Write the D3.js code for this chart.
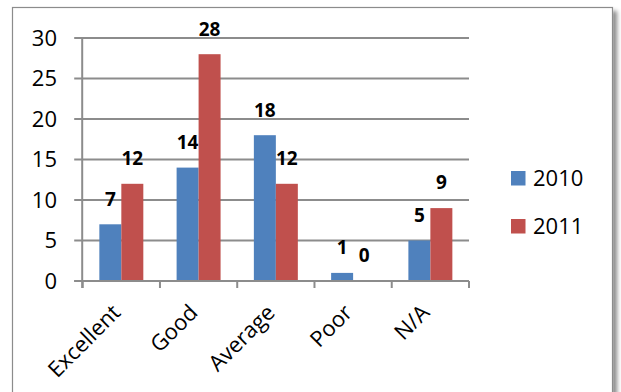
<!DOCTYPE html>
<html>
<head>
<meta charset="utf-8">
<script src="https://cdn.jsdelivr.net/npm/d3@7"></script>
<style>
  html, body { margin: 0; padding: 0; background: #fff; }
  svg { display: block; }
  text { font-family: "Open Sans", sans-serif; fill: #000; }
</style>
</head>
<body>
<svg id="chart" width="621" height="392"></svg>
<script>
// Survey responses by rating, two years side by side
const categories = ["Excellent", "Good", "Average", "Poor", "N/A"];
const seriesNames = ["2010", "2011"];
const values2010 = [7, 14, 18, 1, 5];
const values2011 = [12, 28, 12, 0, 9];
const yTicks = [0, 5, 10, 15, 20, 25, 30];
const colors = ["#4F81BD", "#C0504D"];

const seriesValues = [values2010, values2011];

const svg = d3.select("#chart");

// Chart area frame with a soft drop shadow
const defs = svg.append("defs");
const f = defs.append("filter").attr("id", "shadow")
  .attr("x", "-5%").attr("y", "-5%").attr("width", "115%").attr("height", "115%");
f.append("feDropShadow").attr("dx", 4).attr("dy", 4)
  .attr("stdDeviation", 2).attr("flood-color", "#000").attr("flood-opacity", 0.45);

svg.append("rect")
  .attr("x", 12.5).attr("y", 7.5).attr("width", 600).attr("height", 420)
  .attr("fill", "#fff").attr("stroke", "#8c8c8c").attr("stroke-width", 1.2)
  .attr("filter", "url(#shadow)");

const plot = { left: 82.7, right: 469, top: 38, bottom: 281 };

const y = d3.scaleLinear().domain([0, 30]).range([plot.bottom, plot.top]);
const x0 = d3.scaleBand().domain(categories).range([plot.left, plot.right]).padding(0);
const x1 = d3.scaleBand().domain(seriesNames).range([0, x0.bandwidth()])
  .paddingInner(0).paddingOuter(0.757);

const gridColor = "#8c8c8c";

// Horizontal gridlines (they double as the y tick marks on the left)
svg.append("g").selectAll("line").data(yTicks).join("line")
  .attr("x1", plot.left - 8.5).attr("x2", plot.right)
  .attr("y1", d => y(d)).attr("y2", d => y(d))
  .attr("stroke", gridColor).attr("stroke-width", 2);

// Y axis line
svg.append("line")
  .attr("x1", plot.left - 0.5).attr("x2", plot.left - 0.5)
  .attr("y1", plot.top).attr("y2", plot.bottom + 7)
  .attr("stroke", gridColor).attr("stroke-width", 2);

// Y tick labels
svg.append("g").selectAll("text").data(yTicks).join("text")
  .attr("x", 57).attr("y", d => y(d))
  .attr("dy", "0.36em")
  .attr("text-anchor", "end")
  .attr("font-size", 22)
  .text(d => d);

// Category tick marks at band boundaries
const boundaries = categories.map(c => x0(c)).concat([plot.right]);
svg.append("g").selectAll("line").data(boundaries).join("line")
  .attr("x1", d => d).attr("x2", d => d)
  .attr("y1", plot.bottom).attr("y2", plot.bottom + 7)
  .attr("stroke", gridColor).attr("stroke-width", 2);

// Bars
const groups = svg.append("g").selectAll("g").data(categories).join("g")
  .attr("transform", c => `translate(${x0(c)},0)`);

groups.selectAll("rect")
  .data((c, i) => seriesNames.map((s, k) => ({ s, v: seriesValues[k][i], k })))
  .join("rect")
  .attr("x", d => x1(d.s))
  .attr("width", x1.bandwidth())
  .attr("y", d => y(d.v))
  .attr("height", d => y(0) - y(d.v))
  .attr("fill", d => colors[d.k]);

// Value labels above each bar
groups.selectAll("text")
  .data((c, i) => seriesNames.map((s, k) => ({ s, v: seriesValues[k][i], k })))
  .join("text")
  .attr("x", d => x1(d.s) + x1.bandwidth() / 2)
  .attr("y", d => y(d.v) - 18.7)
  .attr("text-anchor", "middle")
  .attr("font-size", 19)
  .attr("font-weight", "bold")
  .text(d => d.v);

// Baseline (x axis)
svg.append("line")
  .attr("x1", plot.left - 8.5).attr("x2", plot.right)
  .attr("y1", plot.bottom).attr("y2", plot.bottom)
  .attr("stroke", gridColor).attr("stroke-width", 2);

// Rotated category labels, text ending just under each category centre
svg.append("g").selectAll("text").data(categories).join("text")
  .attr("transform", c => `translate(${x0(c) + x0.bandwidth() / 2 + 0.5},${plot.bottom + 33}) rotate(-45)`)
  .attr("text-anchor", "end")
  .attr("font-size", 22)
  .text(c => c);

// Legend
const legend = svg.append("g").selectAll("g").data(seriesNames).join("g")
  .attr("transform", (s, i) => `translate(511,${171 + i * 48})`);
legend.append("rect")
  .attr("width", 14.5).attr("height", 14.5)
  .attr("fill", (s, i) => colors[i]);
legend.append("text")
  .attr("x", 22).attr("y", 7.3).attr("dy", "0.36em")
  .attr("font-size", 22)
  .text(s => s);
</script>
</body>
</html>
